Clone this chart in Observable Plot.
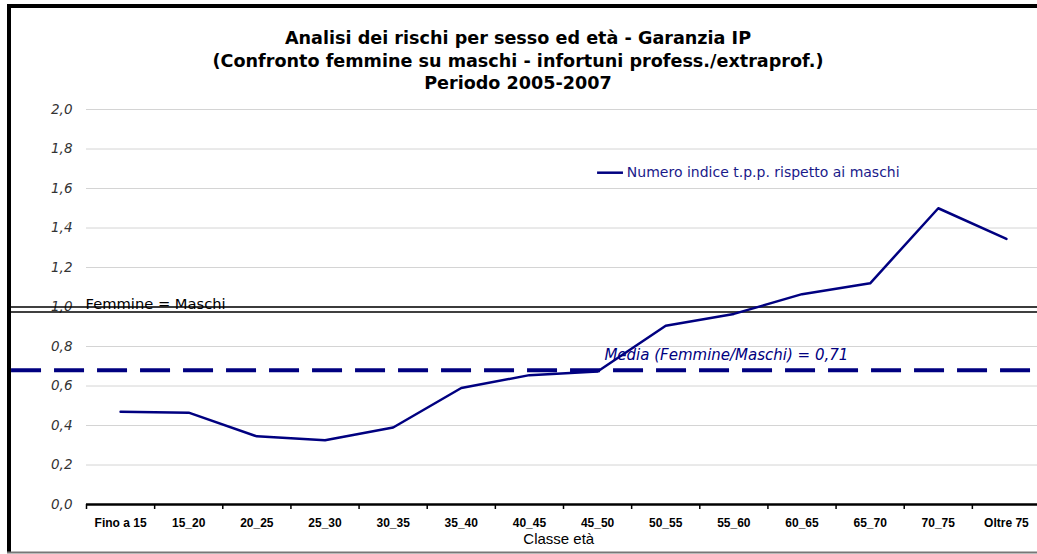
<!DOCTYPE html>
<html>
<head>
<meta charset="utf-8">
<script src="https://cdn.jsdelivr.net/npm/d3@7"></script>
<script src="https://cdn.jsdelivr.net/npm/@observablehq/plot@0.6"></script>
<style>
  html, body { margin: 0; padding: 0; background: #fff; overflow: hidden; }
  #chart svg { display: block; overflow: hidden; }
</style>
</head>
<body>
<div id="chart"></div>
<script>
const categories = ["Fino a 15", "15_20", "20_25", "25_30", "30_35", "35_40", "40_45", "45_50", "50_55", "55_60", "60_65", "65_70", "70_75", "Oltre 75"];
const indexValues = [0.47, 0.465, 0.345, 0.325, 0.39, 0.59, 0.655, 0.673, 0.905, 0.965, 1.065, 1.12, 1.50, 1.345];
const yTicks = [0, 0.2, 0.4, 0.6, 0.8, 1.0, 1.2, 1.4, 1.6, 1.8, 2.0];
const parityLines = [1.0, 0.975];
const mediaValue = 0.68;
const mediaLabel = "Media (Femmine/Maschi) = 0,71";
const parityLabel = "Femmine = Maschi";
const seriesName = "Numero indice t.p.p. rispetto ai maschi";
const titleLines = ["Analisi dei rischi per sesso ed età - Garanzia IP", "(Confronto femmine su maschi - infortuni profess./extraprof.)", "Periodo 2005-2007"];
const xTitle = "Classe età";

const navy = "#000080";
const data = categories.map((c, i) => ({cat: c, pos: i + 0.5, value: indexValues[i]}));
const centers = categories.map((c, i) => i + 0.5);
const bounds = d3.range(categories.length + 1);
const fmt = v => d3.format(".1f")(v).replace(".", ",");
const xEnd = 14.7; // right edge of the picture, in category units

const chart = Plot.plot({
  width: 1037,
  height: 554,
  marginLeft: 86,
  marginRight: 0,
  marginTop: 109,
  marginBottom: 50,
  style: {background: "transparent"},
  x: {type: "linear", domain: [0, categories.length], range: [86, 1040]},
  y: {domain: [0, 2]},
  marks: [
    Plot.ruleY(yTicks.filter(d => d > 0), {y: d => d, x1: 0, x2: xEnd, stroke: "#d4d4d4", strokeWidth: 1}),
    Plot.axisY(yTicks, {tickSize: 0, tickPadding: 14, tickFormat: fmt, fontFamily: "DejaVu Sans", fontStyle: "italic", fontSize: 13.5, fill: "#333", label: null}),
    Plot.ruleY(parityLines, {y: d => d, x1: -1.15, x2: xEnd, stroke: "#000", strokeWidth: 1.6}),
    Plot.text([parityLabel], {x: 0, y: 1.0, text: d => d, textAnchor: "start", lineAnchor: "bottom", dy: 2, dx: -1, fontFamily: "DejaVu Sans", fontSize: 14.7, fill: "#000"}),
    Plot.ruleY([mediaValue], {y: d => d, x1: -1.1, x2: xEnd, stroke: navy, strokeWidth: 4, strokeDasharray: "30,13"}),
    Plot.text([mediaLabel], {x: 7.6, y: mediaValue, text: d => d, textAnchor: "start", dy: -15, fontFamily: "DejaVu Sans", fontStyle: "italic", fontSize: 15, fill: navy}),
    Plot.ruleY([0], {x1: 0, x2: xEnd, stroke: "#000", strokeWidth: 2.5}),
    Plot.axisX(bounds, {tickSize: 5, tickFormat: () => "", strokeWidth: 1.5, label: null}),
    Plot.axisX(centers, {tickSize: 0, tickPadding: 14, tickFormat: d => categories[Math.round(d - 0.5)], fontFamily: "Liberation Sans", fontWeight: "bold", fontSize: 12, fill: "#000", label: null}),
    Plot.line(data, {x: "pos", y: "value", stroke: navy, strokeWidth: 2.5}),
    Plot.ruleY([1.68], {x1: 7.5, x2: 7.88, stroke: navy, strokeWidth: 2.5}),
    Plot.text([seriesName], {x: 7.93, y: 1.68, text: d => d, textAnchor: "start", fontFamily: "DejaVu Sans", fontSize: 14, fill: "#1a1a8a"}),
    Plot.text([xTitle], {x: 6.93, y: 0, text: d => d, dy: 35, fontFamily: "Liberation Sans", fontSize: 15, fill: "#000"})
  ]
});

const svg = d3.select(chart);
const tg = svg.append("g").attr("font-family", "DejaVu Sans").attr("font-weight", "bold").attr("font-size", 17.6).attr("text-anchor", "middle").attr("fill", "#000");
titleLines.forEach((t, i) => tg.append("text").attr("x", 518).attr("y", 44 + i * 22.5).text(t));
// chart frame: thick black top and left edges, thin grey bottom edge (right side cut off)
svg.append("line").attr("x1", 7).attr("x2", 1037).attr("y1", 6).attr("y2", 6).attr("stroke", "#000").attr("stroke-width", 4);
svg.append("line").attr("x1", 9).attr("x2", 9).attr("y1", 4).attr("y2", 553).attr("stroke", "#000").attr("stroke-width", 4);
svg.append("line").attr("x1", 7).attr("x2", 1037).attr("y1", 552.5).attr("y2", 552.5).attr("stroke", "#777").attr("stroke-width", 2);

document.getElementById("chart").appendChild(chart);
</script>
</body>
</html>
